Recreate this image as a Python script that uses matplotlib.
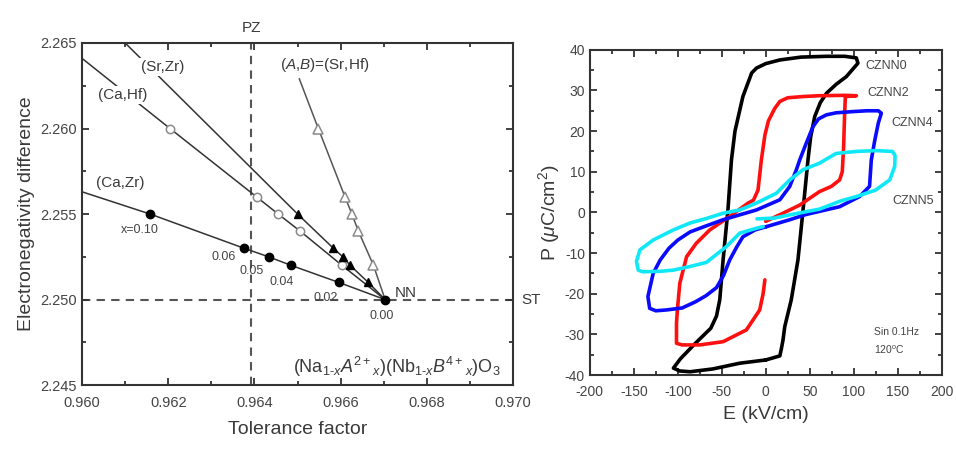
import matplotlib
matplotlib.use("Agg")
import matplotlib.pyplot as plt
from matplotlib.ticker import MultipleLocator

plt.rcParams['font.family'] = ['Liberation Sans', 'DejaVu Sans']
plt.rcParams['mathtext.fontset'] = 'custom'
plt.rcParams['mathtext.rm'] = 'Liberation Sans'
plt.rcParams['mathtext.it'] = 'Liberation Sans:italic'
plt.rcParams['axes.unicode_minus'] = False

# ---- left panel data: tolerance factor vs electronegativity difference ----
x_levels = ['0.10', '0.06', '0.05', '0.04', '0.02', '0.00']
ca_zr_t = [0.96158, 0.96376, 0.96433, 0.96485, 0.96596, 0.96703]
ca_zr_e = [2.2550, 2.2530, 2.2525, 2.2520, 2.2510, 2.2500]
ca_hf_t = [0.96204, 0.96405, 0.96455, 0.96506, 0.96603, 0.96703]
ca_hf_e = [2.2600, 2.2560, 2.2550, 2.2540, 2.2520, 2.2500]
sr_zr_t = [0.96500, 0.96583, 0.96605, 0.96622, 0.96664, 0.96703]
sr_zr_e = [2.2550, 2.2530, 2.2525, 2.2520, 2.2510, 2.2500]
sr_hf_t = [0.96548, 0.96610, 0.96626, 0.96641, 0.96676, 0.96703]
sr_hf_e = [2.2600, 2.2560, 2.2550, 2.2540, 2.2520, 2.2500]
# where each guide line leaves the frame / stops at its label
ca_zr_end = (0.9600, 2.2563)
ca_hf_end = (0.9600, 2.2641)
sr_zr_end = (0.9610, 2.2650)
sr_hf_end = (0.96504, 2.2629)
pz_t = 0.96393
st_e = 2.250

# ---- right panel data: P-E loops ----
czn0_E = [0, 16, 17.8, 19.6, 21.6, 29, 36.6, 42.4, 48, 51, 55.7, 62, 69, 80, 91.6, 104.8,
          103, 90, 69, 40, 16, 0, -10.6, -16, -26, -35, -39, -43, -48.5, -52.3, -56,
          -62.5, -80, -97, -105, -98, -86, -60, -29.6, 0]
czn0_P = [-36.3, -35.3, -33.5, -31.4, -28.1, -21.5, -11.7, 0.6, 12.9, 18.5, 23.6, 27, 29.3,
          31.5, 33.4, 36.7, 38, 38.4, 38.4, 38.2, 37.5, 36.6, 35.5, 34.3, 28.5, 20, 12.9,
          0.6, -11.7, -21.5, -25.5, -28.5, -32.2, -36, -38.3, -39, -39.2, -38.5, -37.1, -36.3]

czn2_E = [0, 19.6, 38.6, 61, 74.6, 84, 87, 88.5, 89.7, 90.5, 103, 90, 60, 42.4, 25, 16, 10,
          3, -1, -5, -8.8, -14, -20, -41, -63.6, -79, -90, -97.7, -100.5, -101.5, -101.5,
          -95, -75, -48.5, -22, -6.9, -3, -1]
czn2_P = [-2.2, -0.2, 1.8, 5.1, 6.4, 8, 10, 16, 24.4, 28.5, 28.7, 28.8, 28.7, 28.5, 28.2,
          27.3, 25.5, 22.5, 19, 12.9, 5.5, 3, 2.3, -1, -4.3, -7.6, -10.9, -17.4, -24, -27.3,
          -32.2, -32.6, -32.6, -31.8, -28.9, -24, -20, -16.6]

czn4_E = [0.8, 27.3, 46, 84, 106.7, 118, 120, 124, 128, 131.4, 128, 115, 99, 80, 69, 60,
          53.7, 46, 38.6, 34.8, 27.3, 16, -10.6, -48.5, -70, -86, -100, -110, -120, -128,
          -134, -132, -125, -113, -95, -80, -68, -56, -48, -41, -33, -26, -12, 0.8]
czn4_P = [-3.5, -1.8, -0.5, 1.4, 3.9, 6.4, 12.9, 17.8, 22, 24.4, 25, 25, 24.8, 24.5, 24, 23,
          21.1, 17, 12.9, 10.5, 6.4, 3.1, 0.6, -1.8, -3.5, -4.8, -6.8, -8.8, -11.7, -15,
          -20.7, -23.6, -24.2, -24, -23.5, -22, -20.5, -18.5, -15.5, -11.7, -8.5, -6, -4.3, -3.5]

czn5_E = [-10, 10, 27.3, 61, 85, 103, 125, 141, 146.6, 147, 144, 125, 103, 80, 61, 42.4,
          27.3, 12, -10.6, -29.6, -48.5, -67.5, -86, -105, -128, -143, -147, -145, -140,
          -120, -105, -86, -67.5, -44.7, -29.6, -10.6, -3]
czn5_P = [-1.6, -1.4, -0.6, 0.8, 2.8, 3.9, 5.5, 8, 11.3, 14, 15, 15.2, 15, 14.5, 12.1, 10.5,
          8, 4.7, 2.3, 0.6, -0.2, -1.5, -2.6, -4.3, -6.8, -9.2, -12, -14.2, -14.6, -14.5,
          -14.2, -13.3, -12.3, -8.4, -5.1, -3.9, -3.5]

loop_names = ['CZNN0', 'CZNN2', 'CZNN4', 'CZNN5']
loop_colors = ['black', '#ff1010', '#0a0aff', '#10e8f8']

fig = plt.figure(figsize=(9.56, 4.72), dpi=100)
ax1 = fig.add_axes([0.0858, 0.184, 0.451, 0.725])
ax2 = fig.add_axes([0.617, 0.2055, 0.368, 0.689])

axc = '#333333'
txc = '#3a3a3a'

# guide lines
ax1.axhline(st_e, color='#555555', ls=(0, (4, 3)), lw=1.5, zorder=1)
ax1.axvline(pz_t, color='#555555', ls=(0, (4, 3)), lw=1.5, zorder=1)

lc = '#333333'
ax1.plot([ca_zr_end[0]] + ca_zr_t, [ca_zr_end[1]] + ca_zr_e, color=lc, lw=1.1, zorder=2)
ax1.plot([ca_hf_end[0]] + ca_hf_t, [ca_hf_end[1]] + ca_hf_e, color=lc, lw=1.1, zorder=2)
ax1.plot([sr_zr_end[0]] + sr_zr_t, [sr_zr_end[1]] + sr_zr_e, color=lc, lw=1.1, zorder=2)
ax1.plot([sr_hf_end[0]] + sr_hf_t, [sr_hf_end[1]] + sr_hf_e, color='#555555', lw=1.1, zorder=2)

ax1.plot(ca_hf_t[:-1], ca_hf_e[:-1], 'o', ms=6, mfc='white', mec='#8a8a8a', mew=1.1, zorder=3)
ax1.plot(sr_hf_t[:-1], sr_hf_e[:-1], '^', ms=6.5, mfc='white', mec='#8a8a8a', mew=1.1, zorder=3)
ax1.plot(sr_zr_t[:-1], sr_zr_e[:-1], '^', ms=6, color='black', zorder=3)
ax1.plot(ca_zr_t, ca_zr_e, 'o', ms=6, color='black', zorder=4)

bb = dict(facecolor='white', edgecolor='none', pad=1.5)
ax1.text(0.96188, 2.2636, '(Sr,Zr)', fontsize=11, color=txc, ha='center', va='center', bbox=bb, zorder=5)
ax1.text(0.96095, 2.26196, '(Ca,Hf)', fontsize=11, color=txc, ha='center', va='center', bbox=bb, zorder=5)
ax1.text(0.96088, 2.25681, '(Ca,Zr)', fontsize=11, color=txc, ha='center', va='center', bbox=bb, zorder=5)
ax1.text(0.96564, 2.26371, r'($\mathit{A}$,$\mathit{B}$)=(Sr,Hf)', fontsize=11, color=txc,
         ha='center', va='center', bbox=bb, zorder=5)

lab_pos = [(0.96135, 2.25406), (0.96328, 2.2525), (0.96394, 2.25168),
           (0.96463, 2.25104), (0.96564, 2.25007), (0.96695, 2.24904)]
for (tx, ty), s in zip(lab_pos, x_levels):
    if s == '0.10':
        s = 'x=0.10'
    ax1.text(tx, ty, s, fontsize=9, color='#444444', ha='center', va='center', zorder=5)
ax1.text(0.96725, 2.2504, 'NN', fontsize=11, color=txc, ha='left', va='center')
ax1.text(0.9702, st_e, 'ST', fontsize=11, color=txc, ha='left', va='center', clip_on=False)
ax1.text(pz_t, 2.26586, 'PZ', fontsize=11, color=txc, ha='center', va='center', clip_on=False)
ax1.text(0.96731, 2.24607,
         r'(Na$_{1\text{-}x}$$\mathit{A}^{2+}$$_{x}$)(Nb$_{1\text{-}x}$$\mathit{B}^{4+}$$_{x}$)O$_3$',
         fontsize=13, color=txc, ha='center', va='center')

ax1.set_xlim(0.960, 0.970)
ax1.set_ylim(2.245, 2.265)
ax1.xaxis.set_major_locator(MultipleLocator(0.002))
ax1.xaxis.set_minor_locator(MultipleLocator(0.001))
ax1.yaxis.set_major_locator(MultipleLocator(0.005))
ax1.yaxis.set_minor_locator(MultipleLocator(0.0025))
ax1.xaxis.set_major_formatter(lambda v, p: f'{v:.3f}')
ax1.yaxis.set_major_formatter(lambda v, p: f'{v:.3f}')
ax1.set_xlabel('Tolerance factor', fontsize=14, color=txc, labelpad=8)
ax1.set_ylabel('Electronegativity difference', fontsize=14, color=txc, labelpad=4)

# P-E loops
for E, P, c in zip([czn0_E, czn2_E, czn4_E, czn5_E], [czn0_P, czn2_P, czn4_P, czn5_P], loop_colors):
    ax2.plot(E, P, color=c, lw=2.6, solid_joinstyle='round', solid_capstyle='round')

lab_xy = [(137, 35.9), (139, 29.3), (167, 22), (167, 2.7)]
for (lx, ly), name in zip(lab_xy, loop_names):
    ax2.text(lx, ly, name, fontsize=9, color='#444444', ha='center', va='center')
ax2.text(123, -29.3, 'Sin 0.1Hz', fontsize=7.5, color='#444444', ha='left', va='center')
ax2.text(123, -33.8, r'120$^{\rm o}$C', fontsize=7.5, color='#444444', ha='left', va='center')

ax2.set_xlim(-200, 200)
ax2.set_ylim(-40, 40)
ax2.xaxis.set_major_locator(MultipleLocator(50))
ax2.xaxis.set_minor_locator(MultipleLocator(25))
ax2.yaxis.set_major_locator(MultipleLocator(10))
ax2.yaxis.set_minor_locator(MultipleLocator(5))
ax2.set_xlabel('E (kV/cm)', fontsize=14, color=txc, labelpad=5)
ax2.set_ylabel(r'P ($\mu$C/cm$^2$)', fontsize=14, color=txc, labelpad=2)

for ax in (ax1, ax2):
    for sp in ax.spines.values():
        sp.set_color(axc)
        sp.set_linewidth(1.5)
    ax.tick_params(which='both', direction='in', top=True, right=True, color=axc, width=1.3)
    ax.tick_params(which='major', length=5, labelsize=10.5, labelcolor='#444444')
    ax.tick_params(which='minor', length=3)
ax1.tick_params(axis='x', which='major', pad=8)
ax2.tick_params(axis='x', which='major', pad=7, labelsize=10)
ax2.tick_params(axis='y', which='major', labelsize=10)

fig.savefig('out.png', dpi=100)
